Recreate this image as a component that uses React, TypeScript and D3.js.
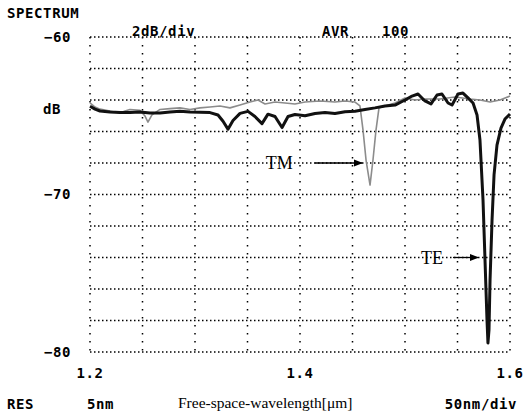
import React from 'react';
import * as d3 from 'd3';

// wavelength in um, level in dB
const teWave = [1.2, 1.2048, 1.2095, 1.219, 1.2286, 1.2381, 1.2476, 1.2571, 1.2667, 1.2762, 1.2857, 1.2952, 1.3048, 1.3143, 1.3219, 1.3267, 1.3314, 1.3362, 1.3429, 1.3505, 1.3571, 1.3638, 1.3695, 1.3762, 1.3829, 1.3886, 1.3952, 1.4048, 1.4143, 1.4238, 1.4333, 1.4429, 1.4524, 1.4619, 1.4714, 1.481, 1.4905, 1.5, 1.5067, 1.5124, 1.519, 1.5248, 1.5305, 1.5352, 1.541, 1.5448, 1.5505, 1.5552, 1.56, 1.5648, 1.5686, 1.5714, 1.5743, 1.5762, 1.5781, 1.579, 1.58, 1.581, 1.5829, 1.5848, 1.5876, 1.5914, 1.5952, 1.6];
const teLevel = [-64.4, -64.58, -64.7, -64.76, -64.8, -64.8, -64.76, -64.82, -64.82, -64.76, -64.72, -64.76, -64.78, -64.8, -64.95, -65.35, -65.85, -65.3, -64.85, -64.72, -65.05, -65.5, -64.9, -65.05, -65.75, -65.05, -64.92, -65.0, -64.86, -64.8, -64.86, -64.74, -64.72, -64.6, -64.5, -64.38, -64.32, -64.0, -63.75, -63.62, -64.06, -64.25, -63.68, -63.62, -64.19, -64.32, -63.62, -63.56, -63.87, -64.19, -64.95, -66.54, -70.35, -74.16, -77.97, -79.43, -78.6, -75.43, -71.62, -68.76, -66.86, -65.78, -65.21, -64.89];

const tmWave = [1.2, 1.2048, 1.2095, 1.219, 1.2286, 1.2333, 1.2381, 1.2476, 1.2524, 1.2552, 1.259, 1.2667, 1.2762, 1.2857, 1.2952, 1.3048, 1.3143, 1.3238, 1.3333, 1.3429, 1.3524, 1.36, 1.3667, 1.3762, 1.3857, 1.3952, 1.4048, 1.419, 1.4333, 1.4429, 1.4524, 1.4571, 1.46, 1.4629, 1.4667, 1.4695, 1.4724, 1.4752, 1.481, 1.4905, 1.5, 1.5095, 1.519, 1.5333, 1.5476, 1.5619, 1.5714, 1.581, 1.5905, 1.6];
const tmLevel = [-64.19, -64.45, -64.58, -64.7, -64.82, -64.7, -64.6, -64.66, -65.02, -65.4, -64.95, -64.6, -64.55, -64.5, -64.6, -64.5, -64.44, -64.38, -64.5, -64.32, -64.13, -64.0, -64.25, -64.13, -64.19, -64.25, -64.13, -64.06, -64.13, -64.06, -64.13, -64.38, -65.9, -67.81, -69.4, -67.81, -65.9, -64.51, -64.38, -64.19, -63.87, -64.0, -63.94, -63.94, -63.81, -63.94, -64.0, -64.13, -64.0, -63.75];

const dbTicks = d3.range(-60, -80.1, -2);
const waveTicks = d3.range(1.2, 1.6001, 0.05);
const dbLabels = [-60, -70, -80];
const waveLabels = ['1.2', '1.4', '1.6'];

const mono = "'DejaVu Sans Mono', monospace";
const serif = "'Liberation Serif', 'Times New Roman', serif";

export default function App() {
  const x = d3.scaleLinear().domain([1.2, 1.6]).range([90, 510]);
  const y = d3.scaleLinear().domain([-60, -80]).range([37, 352]);

  const line = d3.line<[number, number]>()
    .x(d => x(d[0]))
    .y(d => y(d[1]));

  const te = line(teWave.map((w, i) => [w, teLevel[i]]));
  const tm = line(tmWave.map((w, i) => [w, tmLevel[i]]));

  const label = { fontFamily: mono, fontWeight: 700, fontSize: 14, letterSpacing: 0.6 };

  return (
    <svg width={524} height={419}
      style={{ position: 'absolute', left: 0, top: 0, background: '#fff' }}>
      <defs>
        <marker id="arr" viewBox="0 0 10 10" refX="9" refY="5"
          markerWidth="7" markerHeight="7" orient="auto">
          <path d="M0,1 L10,5 L0,9 Z" fill="#000" />
        </marker>
      </defs>

      {/* grid */}
      {dbTicks.map(t => (
        <line key={'h' + t} x1={x(1.2)} x2={x(1.6)} y1={y(t)} y2={y(t)}
          stroke="#000" strokeWidth={1.5} strokeDasharray="1.5 2.5" />
      ))}
      {waveTicks.map(t => (
        <line key={'v' + t} x1={x(t)} x2={x(t)} y1={y(-60)} y2={y(-80)}
          stroke="#000" strokeWidth={1.5} strokeDasharray="1.5 6.5" />
      ))}

      {/* traces */}
      <path d={tm || ''} fill="none" stroke="#8c8c8c" strokeWidth={1.6}
        strokeLinejoin="round" />
      <path d={te || ''} fill="none" stroke="#111" strokeWidth={3}
        strokeLinejoin="round" />

      {/* annotations */}
      <text x={x(1.393)} y={y(-68)} dy="0.35em" textAnchor="end"
        fontFamily={serif} fontSize={18}>TM</text>
      <line x1={x(1.4143)} x2={x(1.459)} y1={y(-68)} y2={y(-68)}
        stroke="#000" strokeWidth={1.3} markerEnd="url(#arr)" />
      <text x={x(1.5362)} y={y(-74)} dy="0.35em" textAnchor="end"
        fontFamily={serif} fontSize={18}>TE</text>
      <line x1={x(1.5457)} x2={x(1.5695)} y1={y(-74)} y2={y(-74)}
        stroke="#000" strokeWidth={1.3} markerEnd="url(#arr)" />

      {/* header */}
      <text x={7} y={18} {...label}>SPECTRUM</text>
      <text x={132} y={36} {...label}>2dB/div</text>
      <text x={322} y={36} {...label}>AVR</text>
      <text x={382} y={36} {...label}>100</text>

      {/* y labels */}
      {dbLabels.map(d => (
        <text key={d} x={71} y={y(d)} dy="0.35em" textAnchor="end" {...label}>
          {'\u2212' + Math.abs(d)}
        </text>
      ))}
      <text x={61} y={y(-64.6)} dy="0.35em" textAnchor="end" {...label}>dB</text>

      {/* x labels */}
      {waveLabels.map(w => (
        <text key={w} x={x(+w)} y={378} textAnchor="middle" {...label}>{w}</text>
      ))}

      {/* footer */}
      <text x={7} y={409} {...label}>RES</text>
      <text x={87} y={409} {...label}>5nm</text>
      <text x={178} y={408} fontFamily={serif} fontSize={15.5}>
        Free-space-wavelength[{'\u03bc'}m]
      </text>
      <text x={517} y={409} textAnchor="end" {...label}>50nm/div</text>
    </svg>
  );
}
